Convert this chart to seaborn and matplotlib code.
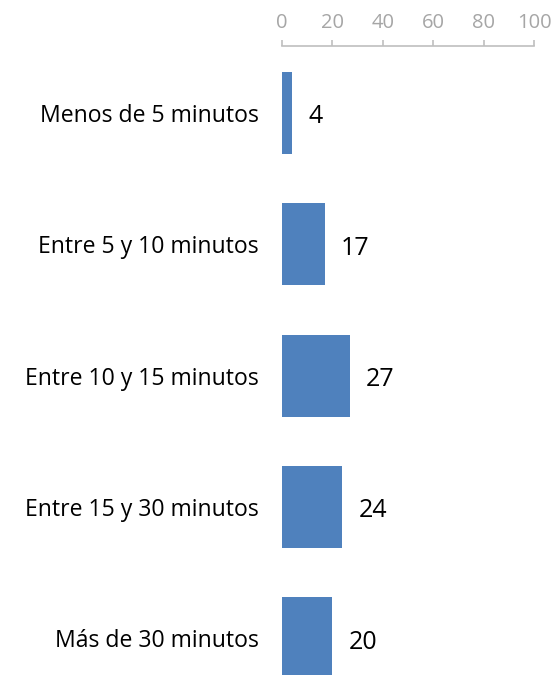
import matplotlib
matplotlib.use("Agg")
import matplotlib.pyplot as plt
import seaborn as sns
import pandas as pd

categories = ["Menos de 5 minutos", "Entre 5 y 10 minutos", "Entre 10 y 15 minutos",
              "Entre 15 y 30 minutos", "Más de 30 minutos"]
values = [4, 17, 27, 24, 20]
xticks = [0, 20, 40, 60, 80, 100]

df = pd.DataFrame({"cat": categories, "val": values})

sns.set_theme(style="white")
plt.rcParams['font.family'] = ['Open Sans', 'DejaVu Sans']

W, H = 553, 675
fig = plt.figure(figsize=(W / 100, H / 100), dpi=100)
left, right, top, bottom = 282, 534, 46, 675
ax = fig.add_axes([left / W, 1 - bottom / H, (right - left) / W, (bottom - top) / H])

sns.barplot(data=df, x="val", y="cat", color="#4f81bd", width=0.625, ax=ax,
            saturation=1, edgecolor="none")

ax.set_xlim(0, 100)
ax.set_ylim(4.28, -0.51)
ax.xaxis.tick_top()
ax.set_xticks(xticks)
ax.set_xticklabels([str(t) for t in xticks])
ax.tick_params(axis="x", colors="#bfbfbf", labelcolor="#a6a6a6", labelsize=14.5,
               length=4.5, width=1.2, direction="out", pad=5)
ax.tick_params(axis="y", length=0, labelsize=16.6, pad=17, labelcolor="black")
ax.set_xlabel("")
ax.set_ylabel("")
for s in ["bottom", "left", "right"]:
    ax.spines[s].set_visible(False)
ax.spines["top"].set_color("#bfbfbf")
ax.spines["top"].set_linewidth(1.2)

for i, v in enumerate(values):
    ax.annotate(str(v), xy=(v, i), xytext=(16, -4), textcoords="offset pixels",
                va="center", ha="left", fontsize=18, color="black")

fig.savefig("out.png", dpi=100)
